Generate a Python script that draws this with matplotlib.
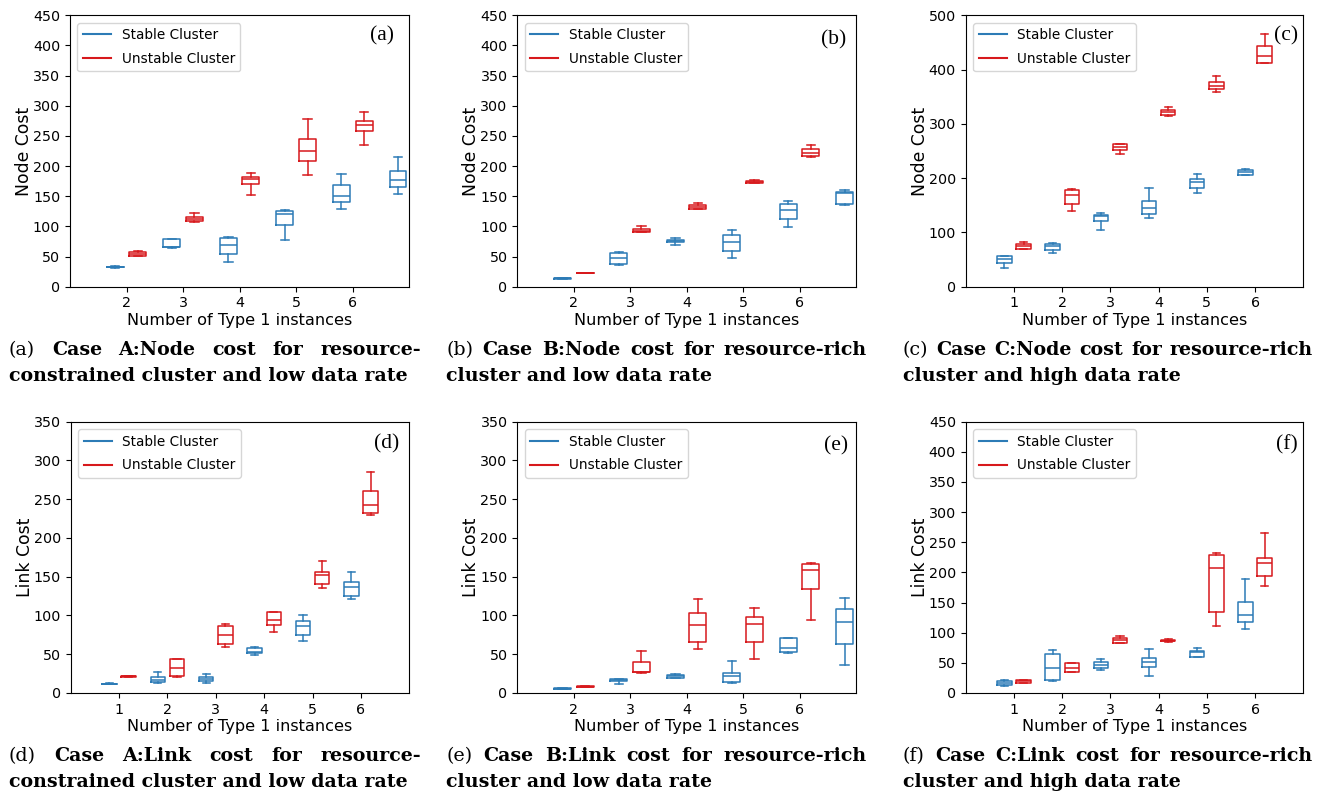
import matplotlib
matplotlib.use("Agg")
import matplotlib.pyplot as plt

W, H = 1320, 792
BLUE = "#2C7BB6"
RED = "#D7191C"

# ---- data: each box is [whisker_low, q1, median, q3, whisker_high] ----
# (a) Case A node cost
a_groups_stable = [2, 3, 4, 5, 6, 7]
a_groups_unstable = [2, 3, 4, 5, 6]
a_stable = [[31.5, 32, 32.7, 33.3, 34], [64, 65, 65.5, 78.5, 79.5], [41.5, 53.7, 68.6, 81.3, 83],
            [77.5, 103, 120, 126, 126.5], [129, 140, 150, 169, 187.6], [153.3, 165, 177, 192.6, 214.7]]
a_unstable = [[50.4, 51, 54, 57.5, 58.7], [108, 108.5, 113, 116, 121.7], [152.7, 170.4, 178, 182.6, 188],
              [184.8, 208, 225, 245.7, 277.8], [234.6, 258.4, 268, 275, 289]]

# (b) Case B node cost
b_groups_stable = [2, 3, 4, 5, 6, 7]
b_groups_unstable = [2, 3, 4, 5, 6]
b_stable = [[13, 13.5, 13.8, 14.3, 14.8], [35.4, 37.6, 47, 55.3, 58], [68.6, 73.6, 75.3, 77.5, 81.3],
            [47.6, 59.8, 73.6, 86.3, 93.5], [99, 112.3, 126.7, 137.2, 142.8], [136, 136.5, 156, 157.5, 160.5]]
b_unstable = [[22, 22.3, 22.7, 23, 23.5], [90, 90.5, 93, 95.7, 100], [129, 129.5, 132.8, 136, 139.5],
              [171.6, 172, 174.3, 176, 176.5], [214.7, 217.5, 222.5, 229, 235.7]]

# (c) Case C node cost
c_groups_stable = [1, 2, 3, 4, 5, 6]
c_groups_unstable = [1, 2, 3, 4, 5, 6]
c_stable = [[35, 43, 51.7, 56.6, 57], [61.5, 67, 74.4, 79.3, 79.8], [104, 121, 130, 132.8, 136.5],
            [126, 134.7, 144.5, 158, 181.4], [173.4, 182, 192, 199, 207], [206, 206.5, 212, 215, 216]]
c_unstable = [[69, 69.5, 74.4, 78.7, 83], [139.6, 153, 168.5, 179, 179.5], [244, 252, 257.7, 262.6, 263],
              [314.3, 316, 321, 324.7, 331.5], [358.5, 364, 370, 376.4, 388], [412.7, 413, 424.4, 442.8, 465.6]]

# (d) Case A link cost
d_groups_stable = [1, 2, 3, 4, 5, 6]
d_groups_unstable = [1, 2, 3, 4, 5, 6]
d_stable = [[11, 11.3, 11.6, 12, 12.3], [13.3, 14.2, 16.3, 21, 26.7], [12.5, 15.5, 18, 21, 24],
            [49.4, 51.6, 52.5, 58.5, 59], [67, 74.8, 86.4, 93.3, 100.6], [121.2, 125.5, 136.3, 143.6, 156]]
d_unstable = [[21, 21.2, 21.5, 21.8, 22.2], [20.6, 21.5, 32.7, 43.4, 43.9], [59, 63.2, 74.4, 86, 89.4],
              [79, 87.3, 93.7, 104.5, 104.9], [135.4, 140.2, 152.6, 156.5, 169.8], [229.6, 231.7, 242, 260.5, 284.6]]

# (e) Case B link cost
e_groups_stable = [2, 3, 4, 5, 6, 7]
e_groups_unstable = [2, 3, 4, 5, 6]
e_stable = [[5, 5.3, 5.6, 6, 6.3], [12, 15, 16.3, 18, 18.5], [19, 19.3, 22, 23.6, 25],
            [13.3, 13.8, 22.4, 25.4, 41.3], [51, 53, 58.5, 71, 71.4], [35.7, 62.8, 92, 108, 123]]
e_unstable = [[7.8, 8, 8.2, 8.5, 8.8], [25.8, 27, 27.5, 40.4, 54.2], [56.3, 65.3, 87.3, 103, 120.8],
              [43.9, 65.3, 89.4, 97.6, 109.2], [93.7, 134, 158.6, 166.8, 167.7]]

# (f) Case C link cost
f_groups_stable = [1, 2, 3, 4, 5, 6]
f_groups_unstable = [1, 2, 3, 4, 5, 6]
f_stable = [[11.6, 12.7, 16.6, 19.4, 22], [20, 21, 42, 64.3, 72], [37.7, 41, 46, 51, 56.5],
            [28.3, 42.7, 51.5, 57.6, 72.6], [60, 60.5, 67.6, 70.4, 75.4], [106.4, 118, 128.6, 150.8, 188.5]]
f_unstable = [[16, 16.3, 19.4, 21.6, 22], [34.4, 34.8, 41, 49.3, 50.4], [82.6, 83, 87.6, 90.4, 94.2],
              [85.4, 86, 87, 88.7, 89.2], [111.4, 134.7, 207.3, 228.4, 232.3], [177.4, 194, 215, 223.4, 265.5]]

x_ticks_ab = [2, 3, 4, 5, 6]
x_ticks_cd = [1, 2, 3, 4, 5, 6]

panels = [
    dict(label="(a)", ylabel="Node Cost", ymax=450, ystep=50, xt=x_ticks_ab, xlim=(1, 7),
         gs=a_groups_stable, gu=a_groups_unstable, s=a_stable, u=a_unstable,
         box=(70, 15.3, 409.3, 286.7), lab=(0.92, 0.925),
         cap=("Case A:Node cost for resource-", "constrained cluster and low data rate")),
    dict(label="(b)", ylabel="Node Cost", ymax=450, ystep=50, xt=x_ticks_ab, xlim=(1, 7),
         gs=b_groups_stable, gu=b_groups_unstable, s=b_stable, u=b_unstable,
         box=(517.3, 15.3, 856, 286.7), lab=(0.935, 0.91),
         cap=("Case B:Node cost for resource-rich", "cluster and low data rate")),
    dict(label="(c)", ylabel="Node Cost", ymax=500, ystep=100, xt=x_ticks_cd, xlim=(0, 7),
         gs=c_groups_stable, gu=c_groups_unstable, s=c_stable, u=c_unstable,
         box=(965.7, 15.3, 1303.3, 286.7), lab=(0.95, 0.925),
         cap=("Case C:Node cost for resource-rich", "cluster and high data rate")),
    dict(label="(d)", ylabel="Link Cost", ymax=350, ystep=50, xt=x_ticks_cd, xlim=(0, 7),
         gs=d_groups_stable, gu=d_groups_unstable, s=d_stable, u=d_unstable,
         box=(70.7, 421.7, 409.3, 693), lab=(0.933, 0.92),
         cap=("Case A:Link cost for resource-", "constrained cluster and low data rate")),
    dict(label="(e)", ylabel="Link Cost", ymax=350, ystep=50, xt=x_ticks_ab, xlim=(1, 7),
         gs=e_groups_stable, gu=e_groups_unstable, s=e_stable, u=e_unstable,
         box=(517.3, 421.7, 856, 693), lab=(0.94, 0.91),
         cap=("Case B:Link cost for resource-rich", "cluster and low data rate")),
    dict(label="(f)", ylabel="Link Cost", ymax=450, ystep=50, xt=x_ticks_cd, xlim=(0, 7),
         gs=f_groups_stable, gu=f_groups_unstable, s=f_stable, u=f_unstable,
         box=(965.7, 421.7, 1303.3, 693), lab=(0.95, 0.915),
         cap=("Case C:Link cost for resource-rich", "cluster and high data rate")),
]

cap_cols = [(9, 420.7), (446, 866.7), (903, 1313)]
cap_rows = [(355, 380.7), (761.4, 787)]

plt.rcParams["font.family"] = "DejaVu Sans"
TICK_FS = 10.3
LEG_FS = 9.8
LAB_FS = 11.6
YLAB_FS = 12.4
fig = plt.figure(figsize=(W / 100, H / 100), dpi=100)
renderer = fig.canvas.get_renderer()

CAP_SERIF = "DejaVu Serif"
LAB_SERIF = "Liberation Serif"

# fit caption size so that "cluster and high data rate" is ~279 px wide
_probe = fig.text(0, 0, "cluster and high data rate", family=CAP_SERIF, fontsize=10, weight="bold")
_w = _probe.get_window_extent(renderer).width
_probe.remove()
CFS = 10 * 279.0 / _w


def to_stats(boxes):
    out = []
    for lo, q1, med, q3, hi in boxes:
        out.append(dict(whislo=lo, q1=q1, med=med, q3=q3, whishi=hi, fliers=[]))
    return out


def draw_series(ax, boxes, groups, offset, color):
    pos = [g + offset for g in groups]
    props = dict(color=color, linewidth=1.1)
    ax.bxp(to_stats(boxes), positions=pos, widths=0.3, showfliers=False, manage_ticks=False,
           boxprops=props, whiskerprops=props, capprops=props, medianprops=props)


def caption(x0, x1, y1, y2, label, line1, line2):
    yf1 = 1 - y1 / H
    yf2 = 1 - y2 / H
    items = [(label, "normal")] + [(w, "bold") for w in line1.split(" ")]
    texts = []
    for t, wgt in items:
        tx = fig.text(0, yf1, t, family=CAP_SERIF, fontsize=CFS, weight=wgt, va="baseline", ha="left")
        texts.append(tx)
    widths = [tx.get_window_extent(renderer).width for tx in texts]
    gap = (x1 - x0 - sum(widths)) / (len(texts) - 1)
    x = x0
    for tx, w in zip(texts, widths):
        tx.set_x(x / W)
        x += w + gap
    fig.text(x0 / W, yf2, line2, family=CAP_SERIF, fontsize=CFS, weight="bold", va="baseline", ha="left")


for i, p in enumerate(panels):
    l, t, r, b = p["box"]
    aw = r - l
    ax = fig.add_axes([l / W, 1 - b / H, aw / W, (b - t) / H])
    draw_series(ax, p["s"], p["gs"], -0.2, BLUE)
    draw_series(ax, p["u"], p["gu"], 0.2, RED)
    ax.plot([], c=BLUE, label="Stable Cluster")
    ax.plot([], c=RED, label="Unstable Cluster")
    ax.legend(loc="upper left", fontsize=LEG_FS, labelspacing=0.72, handlelength=2.05,
              borderaxespad=0.55)
    ax.set_xlim(*p["xlim"])
    ax.set_xticks(p["xt"])
    ax.set_xticklabels([str(v) for v in p["xt"]])
    ax.set_ylim(0, p["ymax"])
    ax.set_yticks(list(range(0, p["ymax"] + 1, p["ystep"])))
    ax.tick_params(labelsize=TICK_FS)
    ax.set_xlabel("Number of Type 1 instances", fontsize=LAB_FS, labelpad=1.5)
    ax.set_ylabel(p["ylabel"], fontsize=YLAB_FS)
    ax.yaxis.set_label_coords(-37.0 / aw, 0.5)
    ax.text(p["lab"][0], p["lab"][1], p["label"], transform=ax.transAxes, family=LAB_SERIF,
            fontsize=15.5, ha="center", va="center")
    col = cap_cols[i % 3]
    row = cap_rows[i // 3]
    caption(col[0], col[1], row[0], row[1], p["label"], p["cap"][0], p["cap"][1])

fig.savefig("out.png", dpi=100)
